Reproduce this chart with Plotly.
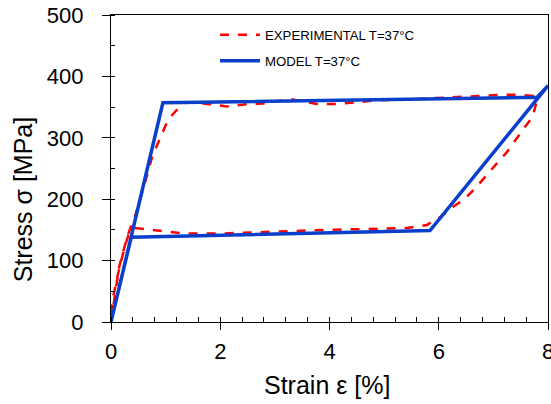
import plotly.graph_objects as go

# Experimental loop (strain %, stress MPa)
exp_strain = [0.0, 0.05, 0.15, 0.3, 0.45, 0.6, 0.75, 0.9, 1.05, 1.2, 1.36, 1.6, 2.12, 2.5, 2.79, 3.28, 3.77, 4.13, 4.5, 4.87, 5.3, 5.78, 6.5, 7.18, 7.49, 7.73, 7.8,
              7.72, 7.58, 7.40, 7.25, 7.06, 6.85, 6.67, 6.48, 6.27, 6.03, 5.78, 5.42, 4.65, 3.92, 3.31, 2.58, 1.97, 1.36, 0.81, 0.44, 0.32, 0.23, 0.13, 0.04, 0.0]
exp_stress = [0, 30, 90, 140, 175, 220, 268, 300, 330, 345, 357, 357, 351, 355, 356, 363, 355, 355, 358, 361, 362, 364, 366, 370, 370, 368, 362,
              334, 318, 296, 277, 258, 237, 218, 201, 188, 171, 158, 153, 152, 150, 148, 146, 144, 144, 150, 153, 142, 115, 79, 41, 15]

# Model loop
mod_strain = [0.0, 0.95, 7.8, 8.0, 5.84, 0.37, 0.0]
mod_stress = [0, 357, 366, 385, 149, 138, 0]

x_title = "Strain ε [%]"
y_title = "Stress σ [MPa]"

FONT = "Liberation Sans, Arial"

fig = go.Figure()
fig.add_trace(go.Scatter(x=exp_strain, y=exp_stress, mode="lines",
                         name="EXPERIMENTAL T=37°C", legendgroup="exp",
                         line=dict(color="#ff0000", width=2.5, dash="dash")))
fig.add_trace(go.Scatter(x=mod_strain, y=mod_stress, mode="lines",
                         name="MODEL T=37°C", legendgroup="mod",
                         line=dict(color="#0a3fcc", width=3.5)))

tick_font = dict(family=FONT, size=22, color="black")
fig.update_layout(
    width=551, height=404,
    margin=dict(l=111, r=3, t=15, b=82, autoexpand=False),
    paper_bgcolor="white", plot_bgcolor="white",
    font=dict(family=FONT, color="black"),
    showlegend=True,
    legend=dict(x=0.238, y=0.985, xanchor="left", yanchor="top",
                bgcolor="rgba(0,0,0,0)", font=dict(size=13.2, family=FONT),
                tracegroupgap=6, itemwidth=40),
    xaxis=dict(range=[0, 8], dtick=2, showgrid=False, zeroline=False,
               showline=True, linecolor="black", linewidth=1.3, mirror=True,
               ticks="outside", ticklen=7, tickcolor="black",
               minor=dict(dtick=0.4, ticks="inside", ticklen=5, tickcolor="black"),
               tickfont=tick_font, ticklabelstandoff=2, ticklabeloverflow="allow"),
    yaxis=dict(range=[0, 500], dtick=100, showgrid=False, zeroline=False,
               showline=True, linecolor="black", linewidth=1.3, mirror=True,
               ticks="outside", ticklen=8, tickcolor="black",
               minor=dict(dtick=50, ticks="inside", ticklen=4, tickcolor="black"),
               tickfont=tick_font, ticklabelstandoff=14, ticklabeloverflow="allow"),
    annotations=[
        dict(text=x_title, xref="paper", yref="paper", x=0.494, y=-0.205,
             xanchor="center", yanchor="middle", showarrow=False,
             font=dict(family=FONT, size=25, color="black")),
        dict(text=y_title, xref="paper", yref="paper", x=-0.201, y=0.397,
             xanchor="center", yanchor="middle", showarrow=False, textangle=-90,
             font=dict(family=FONT, size=25, color="black")),
    ],
)
fig.write_html("out.html", config={"displayModeBar": False},
               post_script="document.body.style.margin='0';")
